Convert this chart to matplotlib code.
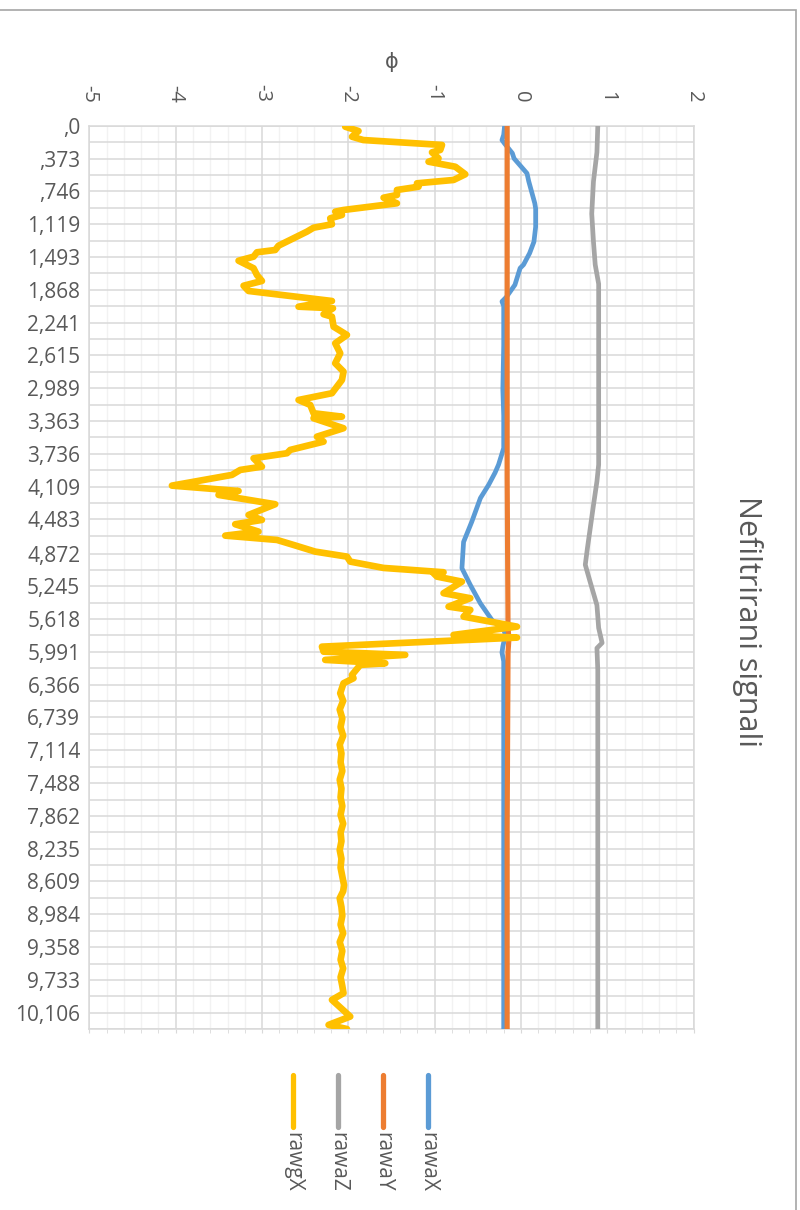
import numpy as np
import matplotlib
matplotlib.use("Agg")
import matplotlib.pyplot as plt
from matplotlib.lines import Line2D
from matplotlib.patches import Rectangle

plt.rcParams['font.family'] = ['Open Sans', 'DejaVu Sans']

# category labels (time, s) as shown on the chart
cat_labels = [',0', ',373', ',746', '1,119', '1,493', '1,868', '2,241', '2,615', '2,989',
              '3,363', '3,736', '4,109', '4,483', '4,872', '5,245', '5,618', '5,991', '6,366',
              '6,739', '7,114', '7,488', '7,862', '8,235', '8,609', '8,984', '9,358', '9,733',
              '10,106']
t_end = 10.29

# rawaX (blue)
rawaX_t = [0.0, 0.10, 0.16, 0.20, 0.31, 0.37, 0.54, 0.63, 0.88, 0.94, 1.15, 1.32, 1.45, 1.58,
           1.62, 1.81, 1.95, 2.00, 2.05, 2.50, 3.00, 3.30, 3.67, 3.86, 3.95, 4.09, 4.24, 4.51,
           4.74, 5.04, 5.23, 5.44, 5.63, 5.74, 5.80, 5.93, 6.00, 6.10, 8.00, 10.29]
rawaX = [-0.19, -0.20, -0.22, -0.19, -0.10, -0.08, 0.07, 0.09, 0.16, 0.17, 0.17, 0.15, 0.10, 0.03,
         -0.01, -0.07, -0.17, -0.22, -0.20, -0.20, -0.21, -0.20, -0.20, -0.26, -0.30, -0.375, -0.47,
         -0.57, -0.665, -0.684, -0.587, -0.47, -0.336, -0.20, -0.18, -0.21, -0.22, -0.20, -0.20, -0.20]

# rawaY (orange)
rawaY_t = [0.0, 2.0, 4.0, 5.70, 5.85, 6.00, 8.00, 10.29]
rawaY = [-0.16, -0.16, -0.16, -0.15, -0.14, -0.15, -0.16, -0.16]

# rawaZ (grey)
rawaZ_t = [0.0, 0.30, 0.63, 1.00, 1.32, 1.58, 1.80, 3.00, 3.50, 3.86, 4.05, 4.32, 4.81, 5.00,
           5.19, 5.46, 5.72, 5.89, 5.95, 6.20, 8.00, 10.29]
rawaZ = [0.89, 0.88, 0.84, 0.82, 0.84, 0.86, 0.90, 0.90, 0.90, 0.90, 0.88, 0.84, 0.77, 0.745,
         0.80, 0.88, 0.90, 0.94, 0.88, 0.89, 0.89, 0.89]

# rawgX (yellow)
rawgX_t = [0.008, 0.057, 0.122, 0.160, 0.216, 0.273, 0.300, 0.368, 0.407, 0.464, 0.550, 0.615,
           0.653, 0.692, 0.729, 0.786, 0.817, 0.881, 0.957, 0.976, 1.014, 1.052, 1.120, 1.159,
           1.204, 1.364, 1.413, 1.439, 1.489, 1.535, 1.621, 1.698, 1.766, 1.820, 1.880, 1.994,
           2.059, 2.077, 2.145, 2.173, 2.287, 2.381, 2.476, 2.590, 2.704, 2.799, 2.894, 3.045,
           3.122, 3.179, 3.273, 3.312, 3.330, 3.444, 3.540, 3.597, 3.691, 3.729, 3.786, 3.882,
           3.919, 3.976, 4.098, 4.159, 4.204, 4.310, 4.432, 4.489, 4.538, 4.622, 4.668, 4.717,
           4.774, 4.850, 4.907, 4.964, 5.036, 5.085, 5.096, 5.135, 5.192, 5.324, 5.381, 5.477,
           5.514, 5.591, 5.705, 5.799, 5.830, 5.933, 5.990, 6.027, 6.084, 6.122, 6.141, 6.255,
           6.293, 6.350, 6.464, 6.55, 6.65, 6.75, 6.85, 6.95, 7.05, 7.15, 7.25, 7.35, 7.45,
           7.55, 7.65, 7.75, 7.85, 7.95, 8.05, 8.15, 8.25, 8.35, 8.45, 8.55, 8.65, 8.72, 8.80,
           8.90, 9.00, 9.10, 9.20, 9.30, 9.40, 9.50, 9.60, 9.70, 9.80, 9.882, 9.958, 10.148,
           10.243, 10.29]
rawgX = [-2.036, -1.882, -1.958, -1.827, -0.915, -0.935, -1.031, -0.955, -1.071, -0.761, -0.645,
         -0.781, -1.205, -1.187, -1.437, -1.437, -1.592, -1.437, -2.056, -2.152, -2.074, -2.210,
         -2.190, -2.403, -2.480, -2.809, -2.847, -3.059, -3.098, -3.272, -3.098, -3.059, -3.001,
         -3.214, -3.156, -2.190, -2.577, -2.178, -2.287, -2.190, -2.171, -2.016, -2.152, -2.094,
         -2.152, -2.056, -2.074, -2.190, -2.577, -2.441, -2.403, -2.074, -2.403, -2.056, -2.364,
         -2.287, -2.673, -2.711, -3.098, -3.001, -3.252, -3.349, -4.044, -3.272, -3.504, -2.847,
         -3.156, -3.001, -3.311, -3.041, -3.426, -2.827, -2.635, -2.384, -2.016, -1.978, -1.592,
         -0.897, -1.013, -0.973, -0.684, -0.897, -0.587, -0.839, -0.587, -0.665, -0.046, -0.781,
         -0.046, -2.306, -2.287, -1.341, -2.268, -1.572, -1.862, -1.958, -1.940, -2.056, -2.094,
         -2.06, -2.10, -2.07, -2.09, -2.06, -2.10, -2.08, -2.09, -2.07, -2.10, -2.08, -2.09,
         -2.07, -2.09, -2.06, -2.09, -2.08, -2.10, -2.08, -2.09, -2.07, -2.05, -2.06, -2.10,
         -2.08, -2.07, -2.09, -2.06, -2.10, -2.07, -2.09, -2.06, -2.09, -2.07, -2.056, -2.190,
         -1.978, -2.229, -2.016]

legend_labels = ['rawgX', 'rawaZ', 'rawaY', 'rawaX']
legend_colors = ['#FFC000', '#A5A5A5', '#ED7D31', '#5B9BD5']

txt = '#595959'
grid_c = '#D9D9D9'

fig = plt.figure(figsize=(8, 12.1), dpi=100)
ax = fig.add_axes([89.4 / 800, 1 - 1029 / 1210, (693.6 - 89.4) / 800, (1029 - 126) / 1210])

ax.plot(rawaX, rawaX_t, color='#5B9BD5', lw=3.4, solid_joinstyle='round',
        solid_capstyle='round', zorder=3)
ax.plot(rawaY, rawaY_t, color='#ED7D31', lw=3.7, solid_joinstyle='round', zorder=4)
ax.plot(rawaZ, rawaZ_t, color='#A5A5A5', lw=3.4, solid_joinstyle='round',
        solid_capstyle='round', zorder=5)
ax.plot(rawgX, rawgX_t, color='#FFC000', lw=4.8, solid_joinstyle='round',
        solid_capstyle='round', zorder=6)

ax.set_xlim(-5, 2)
ax.set_ylim(t_end, 0)

xt = list(range(-5, 3))
ax.set_xticks(xt)
ax.set_xticklabels([str(v) for v in xt], rotation=270, fontsize=14.5, color=txt)
ax.set_xticks(np.arange(-5, 2.01, 0.2), minor=True)
ax.tick_params(axis='x', which='both', top=False, labeltop=True, bottom=True,
               labelbottom=False, length=3, color=grid_c, pad=14)

cat_pos = [float('0' + s.replace(',', '.')) for s in cat_labels]
ax.set_yticks(cat_pos)
ax.set_yticklabels(cat_labels, fontsize=15, color=txt)
mids = [(a + b) / 2 for a, b in zip(cat_pos[:-1], cat_pos[1:])] + [t_end]
ax.set_yticks(mids, minor=True)
ax.tick_params(axis='y', which='both', length=0, pad=6.5)

ax.grid(True, which='major', axis='x', color=grid_c, lw=1.1, zorder=1)
ax.grid(True, which='minor', axis='x', color='#F2F2F2', lw=1.0, zorder=0)
ax.grid(True, which='both', axis='y', color=grid_c, lw=1.1, zorder=1)
ax.set_axisbelow(True)
for s in ax.spines.values():
    s.set_color(grid_c)
    s.set_linewidth(1.1)

ax.xaxis.set_label_position('top')
ax.set_xlabel('ϕ', fontsize=15, color=txt, labelpad=12)

fig.text(748 / 800, 1 - 621 / 1210, 'Nefiltrirani signali', rotation=270, fontsize=22,
         color=txt, ha='center', va='center')

# legend drawn below the plot, rotated like the rest of the chart
for i, (lab, col) in enumerate(zip(legend_labels, legend_colors)):
    x = (293 + 45 * i) / 800
    fig.add_artist(Line2D([x, x], [1 - 1075 / 1210, 1 - 1127 / 1210], color=col, lw=3.8,
                          solid_capstyle='round', transform=fig.transFigure))
    fig.text(x, 1 - 1132 / 1210, lab, rotation=270, fontsize=15, color=txt,
             ha='center', va='top')

fig.add_artist(Rectangle((-0.01, -0.01), 796 / 800 + 0.01, 1 - 10 / 1210 + 0.01, fill=False,
                         edgecolor='#A5A5A5', lw=1.2, transform=fig.transFigure))

fig.savefig('out.png', dpi=100)
